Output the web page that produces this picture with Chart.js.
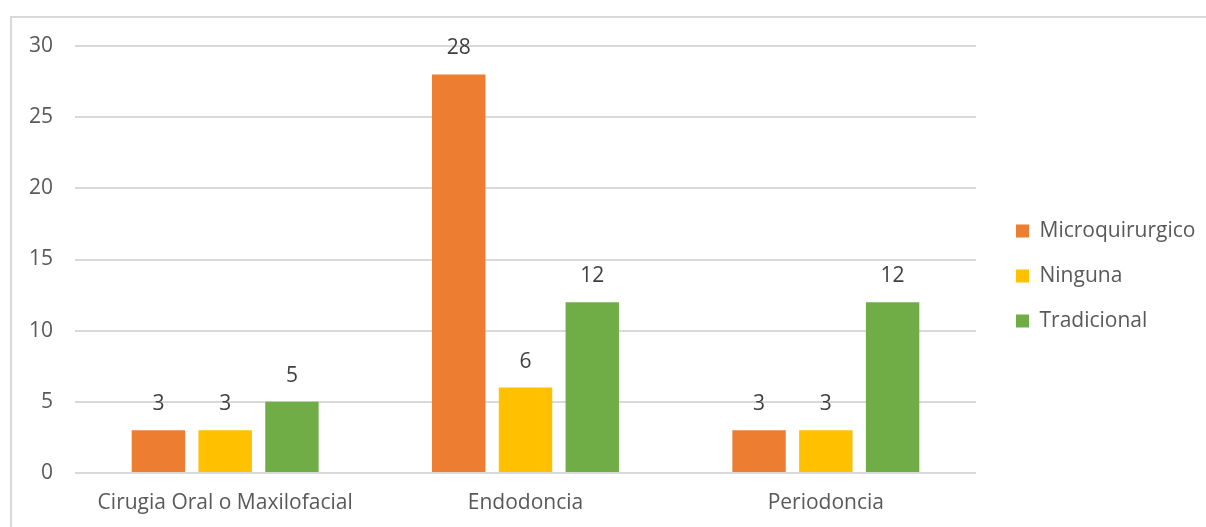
<!DOCTYPE html>
<html>
<head>
<meta charset="utf-8">
<script src="https://cdn.jsdelivr.net/npm/chart.js@4.4.1/dist/chart.umd.min.js"></script>
<style>
  html, body { margin: 0; padding: 0; background: #ffffff; }
  body { width: 1206px; height: 527px; position: relative; overflow: hidden; }
  #frame { position: absolute; left: 10px; top: 16px; width: 1400px; height: 700px;
           border: 2px solid #D9D9D9; box-sizing: border-box; }
  #wrap { position: absolute; left: 0; top: 0; width: 1206px; height: 527px; }
</style>
</head>
<body>
<div id="frame"></div>
<div id="wrap"><canvas id="chart" width="1206" height="527"></canvas></div>
<script>
// Specialties on the x axis
const categories = ['Cirugia Oral o Maxilofacial', 'Endodoncia', 'Periodoncia'];

// Counts per technique
const microquirurgico = [3, 28, 3];
const ninguna = [3, 6, 3];
const tradicional = [5, 12, 12];

const seriesNames = ['Microquirurgico', 'Ninguna', 'Tradicional'];
const seriesColors = ['#ED7D31', '#FFC000', '#70AD47'];

const yTicks = [0, 5, 10, 15, 20, 25, 30];

const FONT = "'Open Sans', 'Liberation Sans', sans-serif";
const FONT_SIZE = 21;
const TEXT = '#595959';

// Writes each bar's value above it
const valueLabels = {
  id: 'valueLabels',
  afterDatasetsDraw(chart) {
    const ctx = chart.ctx;
    ctx.save();
    ctx.font = FONT_SIZE + 'px ' + FONT;
    ctx.fillStyle = '#404040';
    ctx.textAlign = 'center';
    ctx.textBaseline = 'middle';
    chart.data.datasets.forEach((ds, i) => {
      const meta = chart.getDatasetMeta(i);
      meta.data.forEach((bar, j) => {
        ctx.fillText(String(ds.data[j]), bar.x, bar.y - 26);
      });
    });
    ctx.restore();
  }
};

// Fixes the legend column width and places it beside the plot
const legendPlacement = {
  id: 'legendPlacement',
  afterInit(chart) {
    const lg = chart.legend;
    const fit = lg.fit;
    lg.fit = function () {
      fit.call(this);
      this.width = 230;
    };
  },
  afterLayout(chart) {
    const lg = chart.legend;
    const w = lg.width;
    lg.left = 992;
    lg.right = lg.left + w;
    lg.top = 25;
    lg.bottom = 527;
    lg.height = lg.bottom - lg.top;
  }
};

new Chart(document.getElementById('chart'), {
  type: 'bar',
  data: {
    labels: categories,
    datasets: [
      { label: seriesNames[0], data: microquirurgico, backgroundColor: seriesColors[0] },
      { label: seriesNames[1], data: ninguna, backgroundColor: seriesColors[1] },
      { label: seriesNames[2], data: tradicional, backgroundColor: seriesColors[2] }
    ]
  },
  options: {
    responsive: false,
    animation: false,
    events: [],
    datasets: {
      bar: { categoryPercentage: 0.667, barPercentage: 0.8 }
    },
    layout: { padding: { left: 0, right: 0, top: 46, bottom: 0 } },
    plugins: {
      legend: {
        position: 'right',
        labels: {
          boxWidth: 13,
          boxHeight: 13,
          padding: 24,
          color: TEXT,
          font: { family: FONT, size: FONT_SIZE }
        }
      },
      tooltip: { enabled: false },
      title: { display: false }
    },
    scales: {
      x: {
        grid: { display: false, drawTicks: false },
        border: { display: false },
        ticks: { color: TEXT, font: { family: FONT, size: FONT_SIZE }, padding: 17 },
        afterFit(s) { s.height = 54; }
      },
      y: {
        min: 0,
        max: 30,
        afterBuildTicks(s) { s.ticks = yTicks.map(v => ({ value: v })); },
        grid: { color: '#D9D9D9', lineWidth: 2, drawTicks: false },
        border: { display: false },
        ticks: { color: TEXT, font: { family: FONT, size: FONT_SIZE }, padding: 22 },
        afterFit(s) { s.width = 75; }
      }
    }
  },
  plugins: [valueLabels, legendPlacement]
});
</script>
</body>
</html>
